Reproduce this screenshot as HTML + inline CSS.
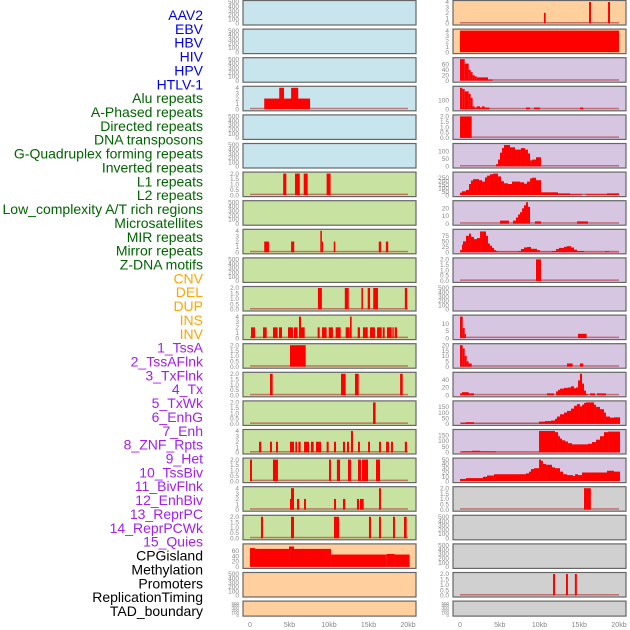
<!DOCTYPE html>
<html><head><meta charset="utf-8"><style>
html,body{margin:0;padding:0;background:#fff;width:630px;height:630px;overflow:hidden}
svg{display:block}
</style></head><body>
<svg id="chart" width="630" height="630" viewBox="0 0 630 630" xmlns="http://www.w3.org/2000/svg" font-family="Liberation Sans, sans-serif">
<g id="labels"></g>
<g id="panels"></g>
</svg>
<script>
const featureLabels=["AAV2","EBV","HBV","HIV","HPV","HTLV-1","Alu repeats","A-Phased repeats","Directed repeats","DNA transposons","G-Quadruplex forming repeats","Inverted repeats","L1 repeats","L2 repeats","Low_complexity A/T rich regions","Microsatellites","MIR repeats","Mirror repeats","Z-DNA motifs","CNV","DEL","DUP","INS","INV","1_TssA","2_TssAFlnk","3_TxFlnk","4_Tx","5_TxWk","6_EnhG","7_Enh","8_ZNF_Rpts","9_Het","10_TssBiv","11_BivFlnk","12_EnhBiv","13_ReprPC","14_ReprPCWk","15_Quies","CPGisland","Methylation","Promoters","ReplicationTiming","TAD_boundary"];
const labelGroups=[6,13,5,15,5];
const xTickLabels=["0","5kb","10kb","15kb","20kb"];
const xTickValues=[0,5,10,15,20];
const emptyTicks=[0,100,200,300,400,500];
const ticks2=[0,0.5,1,1.5,2];
const ticks4=[0,1,2,3,4];
// left column bars [startKb,endKb,value]
const l3Bars=[[1.8,7.6,2],[3.7,4.3,4],[5.2,6.1,4]];
const l6Bars=[[4.2,4.6,2],[5.7,6.3,2],[6.8,7.3,2],[9.7,10.2,2]];
const l8Bars=[[1.8,2.4,2],[5.2,5.6,2],[8.9,9.1,4],[9.1,9.25,2],[10.6,10.8,2],[16.3,16.6,2],[17.2,17.5,2]];
const l10Bars=[[8.6,9.1,2],[12.0,12.5,2],[14.1,14.3,2],[14.9,15.2,2],[15.6,16.2,2],[19.6,19.9,2]];
const l11Bars=[[0.13,0.63,2],[1.65,2.11,2],[2.91,3.5,2],[3.67,4.05,2],[4.81,5.44,2],[5.57,6.03,2],[6.2,6.46,4],[6.33,6.92,2],[8.56,8.82,2],[9.11,9.7,2],[9.96,10.5,2],[10.84,11.48,2],[12.11,12.62,2],[12.66,12.87,4],[13.63,13.92,2],[14.3,14.9,2],[15.19,15.82,2],[16.08,16.67,2],[16.8,17.05,2],[17.34,17.93,2],[18.02,18.19,2],[18.31,18.61,2]];
const l12Bars=[[5.06,7.05,2]];
const l13Bars=[[2.53,2.87,2],[11.52,12.11,2],[13.29,13.76,2],[19.0,19.33,2]];
const l14Bars=[[15.57,15.9,2]];
const l15Bars=[[1.14,1.43,2],[2.53,2.78,2],[3.29,3.54,2],[5.06,5.57,2],[5.74,5.95,2],[6.12,6.41,2],[6.84,7.47,2],[7.72,8.06,2],[8.35,8.99,2],[9.7,9.96,2],[10.63,10.89,2],[11.77,12.03,2],[12.28,12.53,2],[12.78,13.04,4],[13.67,13.92,2],[14.94,15.19,2],[16.33,16.58,2],[17.22,17.59,2],[17.85,18.1,2],[19.6,19.87,2]];
const l16Bars=[[0,0.25,2],[2.91,3.54,2],[10.0,10.25,2],[11.0,11.4,2],[12.4,12.78,2],[13.67,14.05,2],[14.18,14.94,2],[15.95,16.46,2]];
const l17Bars=[[5.06,5.57,2],[5.19,5.57,4],[5.95,6.24,2],[6.84,7.09,2],[10.63,10.89,2],[11.77,12.07,2],[13.54,13.8,2],[13.92,14.39,2],[16.33,16.58,4]];
const l18Bars=[[1.39,1.65,2],[5.19,5.57,2],[10.63,11.27,2],[15.06,15.32,2],[16.33,16.58,2],[18.1,18.35,2],[19.49,19.83,2]];
const l19Bars=[[0,0.63,70],[0.63,4.94,67],[4.94,5.57,76],[5.57,10.25,67],[10.25,17.3,46],[17.3,18.3,48],[18.3,20.2,46]];
// right column
const r0Bars=[[10.57,10.78,2],[16.23,16.48,4],[18.62,18.87,4]];
const r1Bars=[[0,20,4]];
const r2Edges=[0,0.59,1.09,1.34,1.59,1.84,2.10,3.52,4.11];
const r2Vals=[78,62,39,31,20,16,12,4];
const r3Edges=[0,0.29,0.59,1.09,1.34,1.59,1.84,2.10,2.52,2.77,3.10,3.69];
const r3Vals=[240,227,200,173,127,33,20,33,20,33,20];
const r3Bars=[[8.3,8.8,20],[9.3,10.06,20],[15.1,15.5,20]];
const r4Bars=[[0,1.47,2]];
const r5Edges=[4.53,4.78,5.03,5.28,5.53,6.29,6.92,7.67,8.18,8.55,8.81,9.06,9.56,10.19];
const r5Vals=[15,45,90,120,140,125,110,120,110,85,40,45,60];
const r6Edges=[0,0.25,0.75,1.13,1.38,1.64,2.39,2.77,3.14,3.40,3.77,4.15,4.78,5.16,5.53,6.04,6.54,7.55,8.05,8.43,8.81,9.06,9.56,10.19,12.33,13.84,15.35,15.85,18.49,20];
const r6Vals=[35,55,75,160,210,230,215,195,255,280,300,310,270,200,170,160,195,185,165,195,240,250,215,40,25,13,0,13,25];
const r7Edges=[6.67,7.04,7.30,7.55,7.80,8.05,8.30,8.55,8.81];
const r7Vals=[4,8,12,15,20,24,28,22];
const r7Bars=[[5.03,6.16,4],[9.43,10.19,3],[14.72,16.10,3]];
const r8Edges=[0,0.25,0.38,0.75,1.13,1.38,1.76,2.14,2.52,2.89,3.27,3.52,3.77,4.03,4.28,4.53,4.78,5.16,7.30,7.67,8.05,8.43,8.93,9.69,10.06,10.44,11.57,12.08,12.45,13.08,13.46,13.96,14.34,14.72,15.6,18.24,18.74,20];
const r8Vals=[10,35,50,75,85,70,60,65,95,95,75,40,30,20,10,5,3,3,5,15,22,24,16,10,3,3,6,15,20,25,28,22,12,6,2,5,2];
const r9Bars=[[9.56,10.19,2]];
const r11Edges=[0,0.34,0.59,0.75];
const r11Vals=[15,7,3];
const r11Bars=[[14.84,15.93,3]];
const r12Edges=[0,0.34,0.59,0.84,1.09,1.47];
const r12Vals=[20,17,10,5,3];
const r12Bars=[[13.46,14.17,3],[15.09,15.51,3]];
const r13Edges=[12.08,12.33,12.58,13.08,13.58,13.96,14.34,14.59,14.84,15.09,15.35,15.6,15.85,16.10];
const r13Vals=[10,14,17,19,20,23,18,20,38,55,30,12,3];
const r13Bars=[[0,0.25,5],[0.25,1.09,8],[1.09,1.76,5],[10.94,11.82,5],[16.35,16.98,5],[17.23,18.36,5]];
const r14Edges=[0.13,0.75,1.76,9.94,10.69,11.45,11.95,12.2,12.58,13.08,13.46,13.96,14.34,14.72,15.09,15.35,15.6,15.85,16.86,17.11,17.61,18.11,18.36,18.87,19.37,20.13];
const r14Vals=[10,15,3,20,25,30,45,65,85,100,115,135,160,175,155,170,185,190,170,150,130,100,65,55,58];
const r15Edges=[0,0.25,1.51,2.52,4.53,9.94,11.95,12.33,12.58,12.83,13.21,13.58,14.09,14.72,16.1,16.6,17.11,17.61,18.11,18.62,20.13];
const r15Vals=[5,10,15,10,3,185,175,140,120,105,95,80,70,70,75,90,110,140,175,180];
const r16Edges=[0,0.75,2.89,3.40,4.28,8.30,8.68,8.93,9.31,9.94,10.19,10.44,10.82,11.57,11.95,12.58,12.96,13.46,14.21,14.47,14.84,15.35,18.49,19.37,20.13];
const r16Vals=[5,7,10,13,16,18,22,28,30,50,47,40,38,32,30,22,16,14,12,16,14,20,24,22];
const r17Bars=[[15.6,16.46,2]];
const r20Bars=[[11.7,11.95,2],[13.33,13.58,2],[14.45,14.7,2]];

const NS="http://www.w3.org/2000/svg";
function mk(tag,attrs,parent){const e=document.createElementNS(NS,tag);for(const k in attrs)e.setAttribute(k,attrs[k]);parent.appendChild(e);return e;}
function steps(edges,vals){const out=[];for(let i=0;i<vals.length;i++)out.push([edges[i],edges[i+1],vals[i]]);return out;}

// labels
const lg=document.getElementById('labels');
const groupColors=["#0000ee","#006400","#ffa500","#a020f0","#000000"];
let gi=0,gc=0;
featureLabels.forEach((t,i)=>{
  const e=mk('text',{x:203,y:15+i*13.86+5,'text-anchor':'end','font-size':14,fill:groupColors[gi]},lg);
  
  
  e.textContent=t;
  gc++; if(gc>=labelGroups[gi]){gi++;gc=0;}
});

const BLUE="#c8e4ec",GREEN="#c8e2a2",ORANGE="#ffd09e",PURPLE="#d6c6e2",GRAY="#d0d0d0";
const leftPanels=[
 {c:BLUE},{c:BLUE},{c:BLUE},{c:BLUE,max:4,t:ticks4,bars:l3Bars},{c:BLUE},{c:BLUE},
 {c:GREEN,max:2,t:ticks2,bars:l6Bars},{c:GREEN},{c:GREEN,max:4,t:ticks4,bars:l8Bars},{c:GREEN},
 {c:GREEN,max:2,t:ticks2,bars:l10Bars},{c:GREEN,max:4,t:ticks4,bars:l11Bars},{c:GREEN,max:2,t:ticks2,bars:l12Bars},
 {c:GREEN,max:2,t:ticks2,bars:l13Bars},{c:GREEN,max:2,t:ticks2,bars:l14Bars},{c:GREEN,max:4,t:ticks4,bars:l15Bars},
 {c:GREEN,max:2,t:ticks2,bars:l16Bars},{c:GREEN,max:4,t:ticks4,bars:l17Bars},{c:GREEN,max:2,t:ticks2,bars:l18Bars},
 {c:ORANGE,max:80,t:[0,20,40,60],bars:l19Bars,noBase:true},{c:ORANGE},{c:ORANGE}];
const rightPanels=[
 {c:ORANGE,max:4,t:ticks4,bars:r0Bars},{c:ORANGE,max:4,t:ticks4,bars:r1Bars},
 {c:PURPLE,max:78,t:[0,20,40,60],bars:steps(r2Edges,r2Vals)},
 {c:PURPLE,max:240,t:[0,100],bars:steps(r3Edges,r3Vals).concat(r3Bars)},
 {c:PURPLE,max:2,t:ticks2,bars:r4Bars},
 {c:PURPLE,max:140,t:[0,50,100],bars:steps(r5Edges,r5Vals)},
 {c:PURPLE,max:310,t:[0,50,100,150,200,250],bars:steps(r6Edges,r6Vals)},
 {c:PURPLE,max:28,t:[0,10,20],bars:steps(r7Edges,r7Vals).concat(r7Bars)},
 {c:PURPLE,max:98,t:[0,25,50,75],bars:steps(r8Edges,r8Vals)},
 {c:PURPLE,max:2,t:ticks2,bars:r9Bars},{c:PURPLE},
 {c:PURPLE,max:15,t:[0,5,10],bars:steps(r11Edges,r11Vals).concat(r11Bars)},
 {c:PURPLE,max:20,t:[0,5,10,15,20],bars:steps(r12Edges,r12Vals).concat(r12Bars)},
 {c:PURPLE,max:55,t:[0,20,40],bars:steps(r13Edges,r13Vals).concat(r13Bars)},
 {c:PURPLE,max:190,t:[0,50,100,150],bars:steps(r14Edges,r14Vals)},
 {c:PURPLE,max:185,t:[0,50,100,150],bars:steps(r15Edges,r15Vals)},
 {c:PURPLE,max:50,t:[0,10,20,30,40,50],bars:steps(r16Edges,r16Vals)},
 {c:GRAY,max:2,t:ticks2,bars:r17Bars},{c:GRAY},{c:GRAY},
 {c:GRAY,max:2,t:ticks2,bars:r20Bars},{c:GRAY}];

const pg=document.getElementById('panels');
function fmt(v,t){return t===ticks2?v.toFixed(1):String(v);}
function drawCol(panels,x0,x1,k0,k20,name){
  panels.forEach((p,i)=>{
    const top=i*28.6+0.5, h=(i===21)?15:24.5;
    const g=mk('g',{},pg);
    
    
    const r=mk('rect',{x:x0,y:top,width:x1-x0,height:h,fill:p.c,stroke:'#666','stroke-width':1.2},g);
    
    
    const yb=top+h-1.5, yt=top+1.5;
    const max=p.max||500, t=p.t||emptyTicks;
    const ys=v=>yb-(v/max)*(yb-yt);
    const xs=kb=>k0+(kb/20)*(k20-k0);
    t.forEach(v=>{
      const e=mk('text',{x:x0-4,y:ys(v)+2.2,'text-anchor':'end','font-size':i===21&&!p.max?4.5:6.5,fill:'#888'},g);
      
      
      e.textContent=fmt(v,t);
    });
    if(p.bars){
      if(!p.noBase){
        const b=mk('rect',{x:xs(0),y:yb-1.5,width:xs(20)-xs(0),height:1.5,fill:'#b03030','fill-opacity':0.6},g);
        
        
      }
      p.bars.forEach(d=>{
        const y=ys(d[2]);
        const b=mk('rect',{x:xs(d[0]),y:y,width:Math.max(0.8,xs(d[1])-xs(d[0])),height:Math.max(0,yb-y),fill:'#ff0000'},g);
        
        
      });
    }
  });
  xTickValues.forEach((v,j)=>{
    const x=k0+(v/20)*(k20-k0);
    const e=mk('text',{x:x,y:627,'text-anchor':'middle','font-size':7,fill:'#888'},pg);
    
    
    e.textContent=xTickLabels[j];
  });
}
drawCol(leftPanels,243,416,250,408,'left');
drawCol(rightPanels,453,626,460,619,'right');
</script>
</body></html>
